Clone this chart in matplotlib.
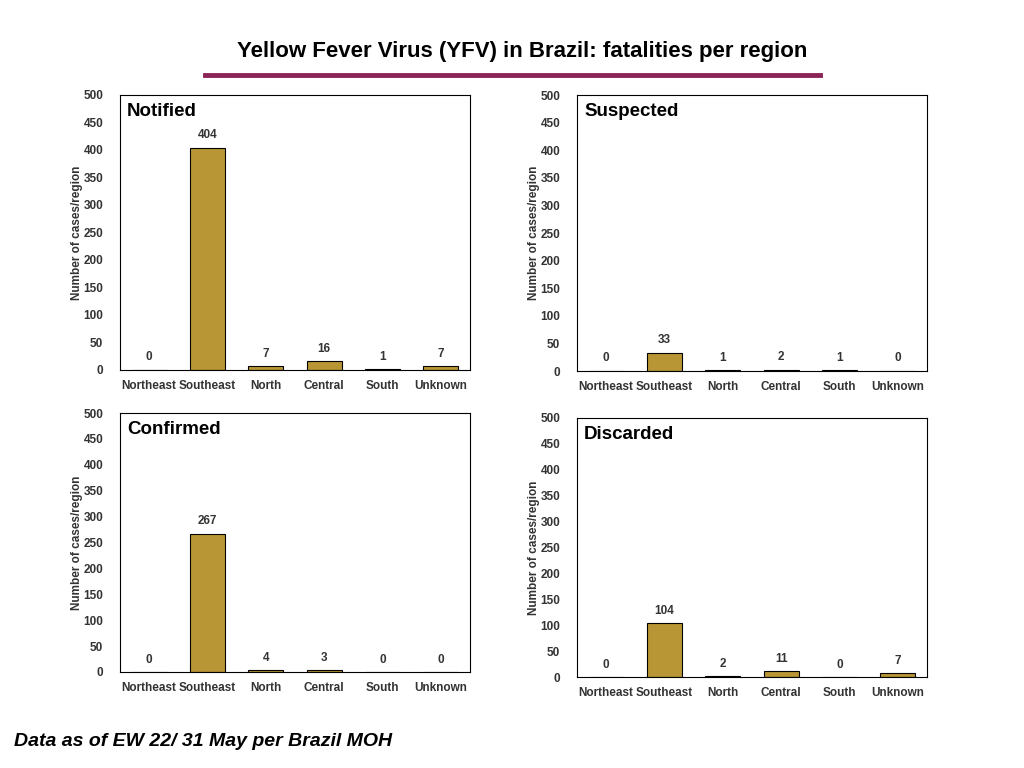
import matplotlib
matplotlib.use("Agg")
import matplotlib.pyplot as plt
from matplotlib.lines import Line2D

regions = ["Northeast", "Southeast", "North", "Central", "South", "Unknown"]
notified = [0, 404, 7, 16, 1, 7]
suspected = [0, 33, 1, 2, 1, 0]
confirmed = [0, 267, 4, 3, 0, 0]
discarded = [0, 104, 2, 11, 0, 7]

panels = [
    ("Notified", notified, [120, 95, 470, 370]),
    ("Suspected", suspected, [577, 95, 927, 371]),
    ("Confirmed", confirmed, [120, 413, 470, 672]),
    ("Discarded", discarded, [577, 418, 927, 677]),
]

W, H = 1024, 768
fig = plt.figure(figsize=(W/100, H/100), dpi=100)
plt.rcParams['font.family'] = ['Liberation Sans', 'DejaVu Sans']

fig.text(522/W, 1-52/H, "Yellow Fever Virus (YFV) in Brazil: fatalities per region",
         ha="center", va="center", fontsize=16, fontweight="bold")
fig.add_artist(Line2D([205/W, 820/W], [1-75/H, 1-75/H], color="#8B2456", lw=3.5))
fig.text(14/W, 1-741/H, "Data as of EW 22/ 31 May per Brazil MOH", ha="left", va="center",
         fontsize=14, fontweight="bold", style="italic")

for title, vals, (l, t, r, b) in panels:
    ax = fig.add_axes([l/W, 1-b/H, (r-l)/W, (b-t)/H])
    x = range(len(regions))
    ax.bar(x, vals, width=0.6, color="#B89535", edgecolor="black", linewidth=0.8)
    for xi, v in zip(x, vals):
        ax.text(xi, v + 12, str(v), ha="center", va="bottom", fontsize=8.5, fontweight="bold", color="#333333")
    ax.set_ylim(0, 500)
    ax.set_xlim(-0.5, 5.5)
    ax.set_yticks(range(0, 501, 50))
    ax.set_xticks(list(x))
    ax.set_xticklabels(regions)
    ax.tick_params(length=0, labelsize=8.5, colors="#333333")
    for lab in ax.get_xticklabels() + ax.get_yticklabels():
        lab.set_fontweight("bold")
    ax.tick_params(axis="y", pad=12)
    ax.tick_params(axis="x", pad=7)
    ax.set_ylabel("Number of cases/region", fontsize=8.5, fontweight="bold", color="#333333", labelpad=0)
    ax.text(0.02, 0.97, title, transform=ax.transAxes, ha="left", va="top",
            fontsize=13.5, fontweight="bold")
    for s in ax.spines.values():
        s.set_linewidth(0.8)

fig.savefig("out.png", dpi=100)
